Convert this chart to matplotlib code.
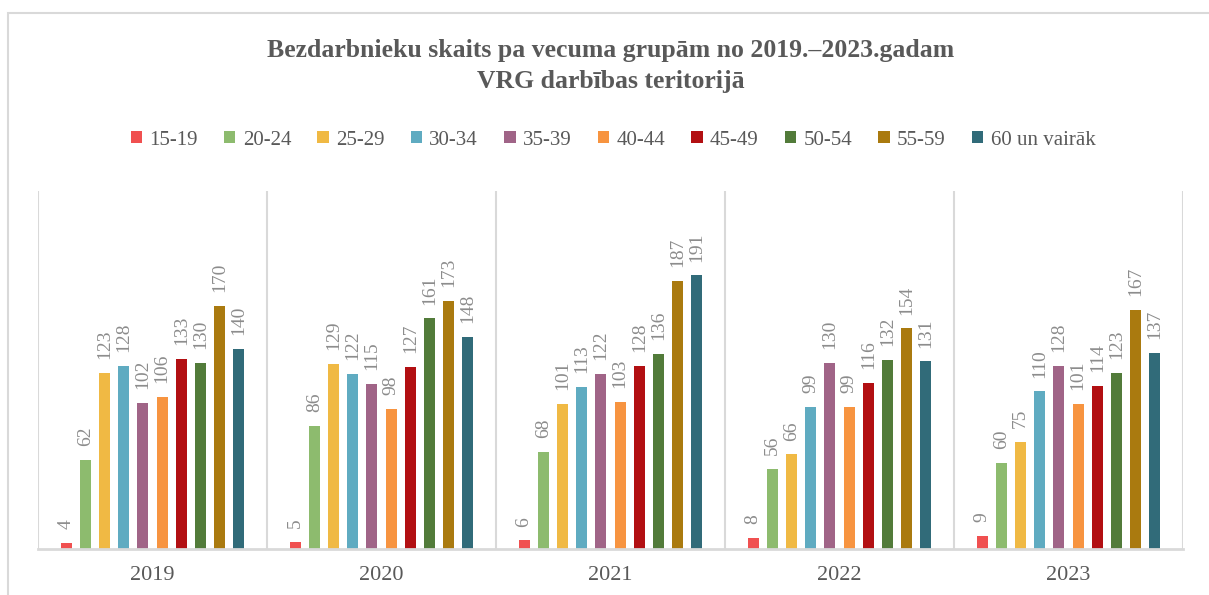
import matplotlib
matplotlib.use("Agg")
import matplotlib.pyplot as plt
from matplotlib.patches import Rectangle, Patch
import numpy as np

years = ["2019", "2020", "2021", "2022", "2023"]
age_groups = ["15-19", "20-24", "25-29", "30-34", "35-39", "40-44", "45-49", "50-54", "55-59", "60 un vairāk"]
values = {
    "15-19": [4, 5, 6, 8, 9],
    "20-24": [62, 86, 68, 56, 60],
    "25-29": [123, 129, 101, 66, 75],
    "30-34": [128, 122, 113, 99, 110],
    "35-39": [102, 115, 122, 130, 128],
    "40-44": [106, 98, 103, 99, 101],
    "45-49": [133, 127, 128, 116, 114],
    "50-54": [130, 161, 136, 132, 123],
    "55-59": [170, 173, 187, 154, 167],
    "60 un vairāk": [140, 148, 191, 131, 137],
}
colors = ["#F05050", "#8DBB6E", "#F0B944", "#5FABC1", "#A06487",
          "#F79440", "#B20F12", "#527B3A", "#AA7A0F", "#316B79"]

title = "Bezdarbnieku skaits pa vecuma grupām no 2019.–2023.gadam\nVRG darbības teritorijā"

serif = ["Liberation Serif", "DejaVu Serif"]
plt.rcParams["font.family"] = serif

fig = plt.figure(figsize=(12.09, 5.95), dpi=100)
ax = fig.add_axes([38/1209, 1-549/595, (1183-38)/1209, (549-191)/595])

slot = 19.2/229
bw = 11/229
n = len(age_groups)
centers = np.arange(len(years)) + 0.5
for i, (g, c) in enumerate(zip(age_groups, colors)):
    xs = centers + (i - (n-1)/2) * slot
    ax.bar(xs, values[g], width=bw, color=c, zorder=3, label=g)
    for x, v in zip(xs, values[g]):
        ax.annotate(str(v), (x, v), xytext=(0, 10), textcoords="offset points",
                    rotation=90, ha="center", va="bottom", fontsize=14,
                    color="#8C8C8C")

ax.set_xlim(0, len(years))
ax.set_ylim(0, 250)
for k in range(len(years)+1):
    ax.axvline(k, color="#D9D9D9", lw=1.5, zorder=1)
for s in ["top", "left", "right"]:
    ax.spines[s].set_visible(False)
ax.spines["bottom"].set_color("#D9D9D9")
ax.spines["bottom"].set_linewidth(2)
ax.spines["bottom"].set_zorder(4)
ax.set_yticks([])
ax.set_xticks(centers)
ax.set_xticklabels(years, fontsize=16, color="#595959")
ax.tick_params(axis="x", length=0, pad=12)

fig.text(0.505, 1-66/595, title, ha="center", va="center", fontsize=18.5,
         fontweight="bold", color="#595959", linespacing=1.45)

handles = [Patch(facecolor=c, edgecolor="none") for c in colors]
fig.legend(handles, age_groups, loc="center", bbox_to_anchor=(0.507, 1-140/595),
           ncol=10, frameon=False, fontsize=15, handlelength=0.55, handleheight=0.55,
           handletextpad=0.35, columnspacing=1.25, labelcolor="#595959")

fig.patches.append(Rectangle((8/1209, -0.1), 1.2, 1.1-13/595, transform=fig.transFigure,
                             fill=False, edgecolor="#D9D9D9", lw=1.5, figure=fig))

fig.savefig("out.png", dpi=100)
